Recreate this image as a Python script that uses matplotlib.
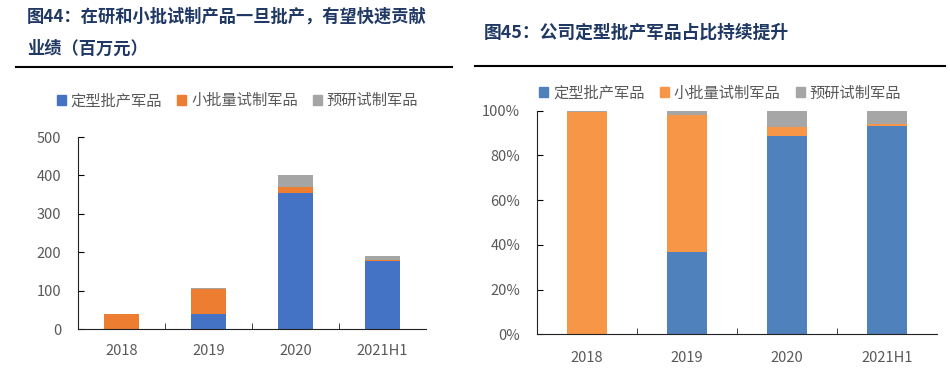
import matplotlib
matplotlib.use('Agg')
import matplotlib.pyplot as plt
from matplotlib.lines import Line2D
from matplotlib.patches import Patch

plt.rcParams['font.family'] = ['Noto Sans CJK SC', 'DejaVu Sans']

# data (百万元)
years = ['2018', '2019', '2020', '2021H1']
dingxing = [0, 39, 355, 177]      # 定型批产军品
xiaopi = [39.8, 65, 16, 2]        # 小批量试制军品
yuyan = [0.2, 2, 30, 11]          # 预研试制军品
names = ['定型批产军品', '小批量试制军品', '预研试制军品']

left_colors = ['#4472C4', '#ED7D31', '#A5A5A5']
right_colors = ['#4F81BD', '#F79646', '#A6A6A6']
title_color = '#1F3864'
text_gray = '#595959'

fig = plt.figure(figsize=(9.5, 3.69), dpi=100)


def style_axes(ax, pad):
    for s in ['top', 'right']:
        ax.spines[s].set_visible(False)
    ax.spines['left'].set_color('#222222')
    ax.spines['bottom'].set_color('#222222')
    ax.set_xlim(-0.5, 3.5)
    ax.set_xticks(range(len(years)))
    ax.set_xticklabels(years)
    ax.set_xticks([0.5, 1.5, 2.5], minor=True)
    ax.tick_params(axis='x', which='major', length=0, pad=pad, labelsize=10.5, labelcolor=text_gray)
    ax.tick_params(axis='x', which='minor', direction='in', length=4, color='#222222')
    ax.tick_params(axis='y', direction='in', length=4, labelsize=10.5, labelcolor=text_gray, pad=12)


def stack(ax, series, colors):
    bottom = [0] * len(years)
    for vals, c, n in zip(series, colors, names):
        ax.bar(range(len(years)), vals, 0.4, bottom=bottom, color=c, label=n)
        bottom = [b + v for b, v in zip(bottom, vals)]


# left chart: absolute values
ax1 = fig.add_axes([0.0821, 0.1084, 0.3663, 0.5203])
stack(ax1, [dingxing, xiaopi, yuyan], left_colors)
ax1.set_ylim(0, 500)
ax1.set_yticks(range(0, 501, 100))
style_axes(ax1, 11)

# right chart: shares
totals = [a + b + c for a, b, c in zip(dingxing, xiaopi, yuyan)]
share = [[v / t * 100 for v, t in zip(s, totals)] for s in [dingxing, xiaopi, yuyan]]
ax2 = fig.add_axes([0.5653, 0.094, 0.4211, 0.606])
stack(ax2, share, right_colors)
ax2.set_ylim(0, 100)
ax2.set_yticks(range(0, 101, 20))
ax2.set_yticklabels([f'{v}%' for v in range(0, 101, 20)])
style_axes(ax2, 12)

# legends
h1 = [Patch(color=c) for c in left_colors]
fig.legend(h1, names, loc='center', bbox_to_anchor=(0.250, 0.727), ncol=3, frameon=False,
           handlelength=0.6, handleheight=0.6, handletextpad=0.3, columnspacing=1.0,
           fontsize=11, labelcolor=text_gray)
h2 = [Patch(color=c) for c in right_colors]
fig.legend(h2, names, loc='center', bbox_to_anchor=(0.758, 0.748), ncol=3, frameon=False,
           handlelength=0.6, handleheight=0.6, handletextpad=0.3, columnspacing=1.0,
           fontsize=11, labelcolor=text_gray)

# titles
fig.text(27 / 950, 1 - 17 / 369, '图44：在研和小批试制产品一旦批产，有望快速贡献', fontsize=12.4,
         fontweight='bold', color=title_color, va='center', ha='left')
fig.text(27 / 950, 1 - 49 / 369, '业绩（百万元）', fontsize=12.4,
         fontweight='bold', color=title_color, va='center', ha='left')
fig.text(484 / 950, 1 - 33 / 369, '图45：公司定型批产军品占比持续提升', fontsize=12.8,
         fontweight='bold', color=title_color, va='center', ha='left')

# rules under titles
fig.add_artist(Line2D([16 / 950, 452 / 950], [1 - 66.5 / 369] * 2, color='black', lw=1.5))
fig.add_artist(Line2D([475 / 950, 945 / 950], [1 - 65.7 / 369] * 2, color='black', lw=1.5))

fig.savefig('out.png', dpi=100)
